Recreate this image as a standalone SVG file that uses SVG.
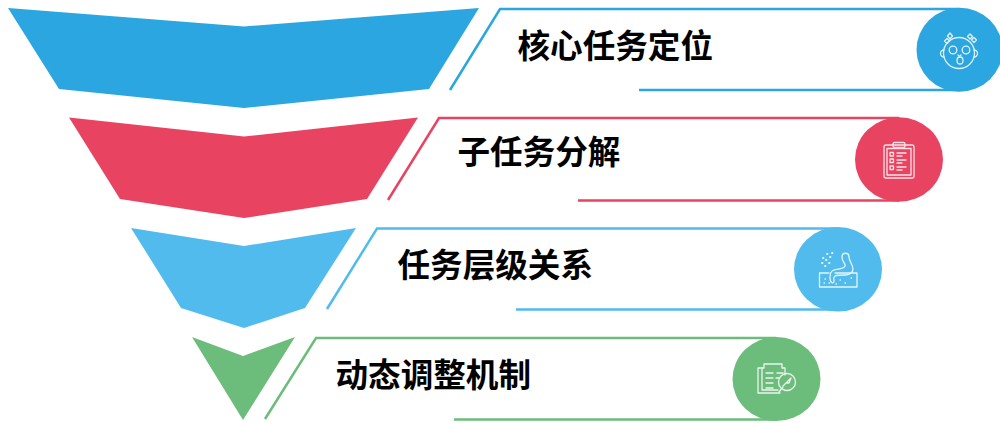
<svg xmlns="http://www.w3.org/2000/svg" width="1000" height="423" viewBox="0 0 1000 423">
<style>
.t{font-family:"Noto Sans CJK SC","Noto Sans",sans-serif;font-weight:700;font-size:32.600px;fill:#000}
.l{fill:none;stroke-width:2.5}
.i{fill:none;stroke:#fff;stroke-width:1.3;stroke-linecap:round;stroke-linejoin:round;opacity:.85}
.a{stroke:#2ba6e0}.b{stroke:#e84462}.c{stroke:#52bbee}.d{stroke:#6cbd7b}
</style>
<rect width="1000" height="423" fill="#fff"/>
<g id="connectors">
<path class="l a" d="M450 90L500 9H959M639 90H959"/>
<path class="l b" d="M388 200L439 118H899M578 200.500H899"/>
<path class="l c" d="M327 309L377 228.500H838M516 309.500H838"/>
<path class="l d" d="M265 419L316 338H776M454 419.500H776"/>
</g>
<g id="node-1">
<polygon points="8,8 244,26.500 479,8 429,89 244,108 59,89" fill="#2ba6e0"/>
<ellipse cx="959.500" cy="49.800" rx="43" ry="42" fill="#2ba6e0"/>
<text class="t" x="517.500" y="57.500">核心任务定位</text>
<g class="i">
<circle cx="959" cy="53" r="15.500"/>
<path d="M944 50a3.500 3.500 0 0 0 0 7M974 50a3.500 3.500 0 0 1 0 7"/>
<circle cx="953" cy="50" r="3.800"/><circle cx="966" cy="50" r="3.800"/>
<ellipse cx="960" cy="60.500" rx="3" ry="3.500"/>
<path d="M958 55l1.500 1.500 1.500-1.500"/>
<path d="M950 33l2.500 3-2.500 3-2.500-3zM947 38.500l2.500 2.500-2.500 2.500-2.500-2.500zM970 34l2.500 2.500-2.500 2.500-2.500-2.500zM974 37.500l2.500 2.500-2.500 2.500-2.500-2.500z"/>
</g>
</g>
<g id="node-2">
<polygon points="69,117.500 244,136.500 418,117.500 367,199 244,218 120,199" fill="#e84462"/>
<ellipse cx="899" cy="159.500" rx="44" ry="42.300" fill="#e84462"/>
<text class="t" x="457.500" y="163.500">子任务分解</text>
<g class="i">
<rect x="884" y="145" width="30" height="33" rx="2"/>
<rect x="887" y="148.500" width="24" height="26.500"/>
<rect x="893" y="142.500" width="12" height="5" rx="1.500"/>
<rect x="890" y="152.500" width="3.500" height="3.500"/><rect x="890" y="159" width="3.500" height="3.500"/><rect x="890" y="166" width="3.500" height="3.500"/>
<path d="M897 153h9M897 156h5M897 160h9M897 163h5M897 167h9M897 170h5"/>
</g>
</g>
<g id="node-3">
<polygon points="131,228 244,246 356,228 305,308 244,328 181,308" fill="#52bbee"/>
<ellipse cx="838" cy="269.300" rx="44" ry="42.300" fill="#52bbee"/>
<text class="t" x="397.500" y="276.500">任务层级关系</text>
<g class="i">
<path d="M829 273H819.500V287H857V273H835"/>
<path d="M830 277c0-4 1-6 4-7 4-1 10-1 11-4 1-2-3-4-3-9 0-5 7-5 7 0 0 4 4 8 4 12 0 4-4 6-8 6-3 0-8 0-10 1-2 1-1 3-1 5 0 3-4 3-4-4Z"/>
<path d="M825 279h.5M829 283h.5M840 280h.500M845 283h.5M851 278h.5M824 283h.5M836 284h.5"/>
<path d="M823 258h.5M827 254h.5M822 263h.5M826 260h.5M830 257h.5M825 266h.5M829 263h.5M832 253h.5" stroke-width="1.800"/>
</g>
</g>
<g id="node-4">
<polygon points="192,337 243,356 295,337 243,420" fill="#6cbd7b"/>
<ellipse cx="776.500" cy="379" rx="44" ry="42" fill="#6cbd7b"/>
<text class="t" x="335.500" y="386.500">动态调整机制</text>
<g class="i">
<path d="M762 368h-4v25h22M762 368h2v-4h18v4h3v7"/>
<path d="M762 368v22h16M766 373h7M777 373h6M766 378h7M776 378h3M766 383h7M766 388h7"/>
<circle cx="787" cy="382" r="8.500"/>
<path d="M783 386l8-8-2 5h-3l-2 2M779 392l4-5"/>
</g>
</g>
</svg>
